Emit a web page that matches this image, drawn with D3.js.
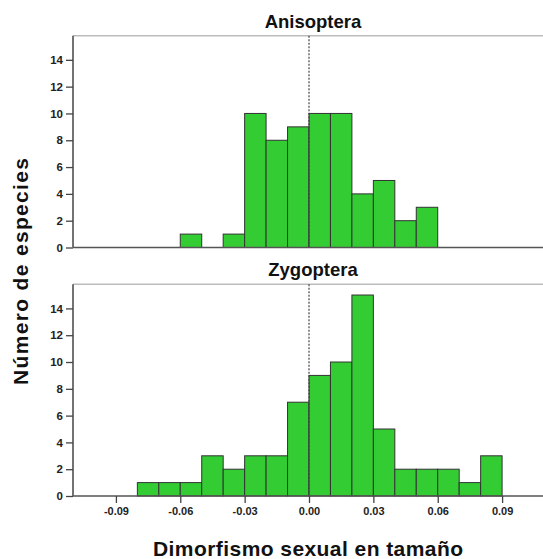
<!DOCTYPE html>
<html>
<head>
<meta charset="utf-8">
<script src="https://cdn.jsdelivr.net/npm/d3@7"></script>
<style>
  body { margin: 0; background: #fff; }
  svg { display: block; font-family: "Liberation Sans", Arial, sans-serif; }
</style>
</head>
<body>
<script>
// bin lower edges (width 0.01) and counts
const binWidth = 0.01;
const anisopteraBins = [-0.06, -0.04, -0.03, -0.02, -0.01, 0.00, 0.01, 0.02, 0.03, 0.04, 0.05];
const anisopteraCounts = [1, 1, 10, 8, 9, 10, 10, 4, 5, 2, 3];
const zygopteraBins = [-0.08, -0.07, -0.06, -0.05, -0.04, -0.03, -0.02, -0.01, 0.00, 0.01, 0.02, 0.03, 0.04, 0.05, 0.06, 0.07, 0.08];
const zygopteraCounts = [1, 1, 1, 3, 2, 3, 3, 7, 9, 10, 15, 5, 2, 2, 2, 1, 3];
const yTicks = [0, 2, 4, 6, 8, 10, 12, 14];
const xTicks = [-0.09, -0.06, -0.03, 0.00, 0.03, 0.06, 0.09];

const width = 543, height = 559;
const svg = d3.select("body").append("svg")
  .attr("width", width)
  .attr("height", height);

const x = d3.scaleLinear().domain([-0.11, 0.11]).range([73, 545]);
// plain hyphen for negatives, like the original
const fmtX = d => d3.format(".2f")(d).replace("\u2212", "-");

const panels = [
  { title: "Anisoptera", bins: anisopteraBins, counts: anisopteraCounts, top: 35.7, bottom: 247.5, showX: false },
  { title: "Zygoptera", bins: zygopteraBins, counts: zygopteraCounts, top: 284.3, bottom: 496, showX: true }
];

panels.forEach(p => {
  const y = d3.scaleLinear().domain([0, 15.8]).range([p.bottom, p.top]);
  const g = svg.append("g");

  // top frame line
  g.append("line")
    .attr("x1", x.range()[0]).attr("x2", width)
    .attr("y1", p.top).attr("y2", p.top)
    .attr("stroke", "#bbb").attr("stroke-width", 1.5);

  // bars
  g.selectAll("rect")
    .data(p.bins.map((b, i) => ({ x0: b, n: p.counts[i] })))
    .enter()
    .append("rect")
    .attr("x", d => x(d.x0))
    .attr("y", d => y(d.n))
    .attr("width", d => x(d.x0 + binWidth) - x(d.x0))
    .attr("height", d => y(0) - y(d.n))
    .attr("fill", "#33cc33")
    .attr("stroke", "#333")
    .attr("stroke-width", 1);

  // dotted reference line at zero
  g.append("line")
    .attr("x1", x(0)).attr("x2", x(0))
    .attr("y1", p.top).attr("y2", y(0))
    .attr("stroke", "#444").attr("stroke-width", 1.2)
    .attr("stroke-dasharray", "2,1.5");

  // y axis
  const yAxis = g.append("g")
    .attr("transform", `translate(${x.range()[0]},0)`)
    .call(d3.axisLeft(y).tickValues(yTicks).tickSize(7).tickPadding(3).tickSizeOuter(0));
  yAxis.select(".domain").remove();
  yAxis.append("line")
    .attr("x1", 0).attr("x2", 0)
    .attr("y1", p.top).attr("y2", p.bottom)
    .attr("stroke", "#444").attr("stroke-width", 1.5);
  yAxis.selectAll(".tick line").attr("stroke", "#444").attr("stroke-width", 1.3);
  yAxis.selectAll(".tick text")
    .attr("fill", "#222")
    .style("font-size", "11.5px")
    .style("font-weight", "bold")
    .style("font-family", "'Liberation Sans', Arial, sans-serif");

  // baseline
  g.append("line")
    .attr("x1", x.range()[0]).attr("x2", width)
    .attr("y1", p.bottom).attr("y2", p.bottom)
    .attr("stroke", "#555").attr("stroke-width", 1.5);

  if (p.showX) {
    const xAxis = g.append("g")
      .attr("transform", `translate(0,${p.bottom})`)
      .call(d3.axisBottom(x).tickValues(xTicks).tickFormat(fmtX).tickSize(7).tickPadding(4).tickSizeOuter(0));
    xAxis.select(".domain").remove();
    xAxis.selectAll(".tick line").attr("stroke", "#444").attr("stroke-width", 1.3);
    xAxis.selectAll(".tick text")
      .attr("fill", "#222")
      .style("font-size", "11px")
      .style("font-weight", "bold")
      .style("font-family", "'Liberation Sans', Arial, sans-serif");
  }

  // panel title
  svg.append("text")
    .attr("x", 313)
    .attr("y", p.top - 8)
    .attr("text-anchor", "middle")
    .style("font-size", "18.5px")
    .style("font-weight", "bold")
    .attr("fill", "#111")
    .text(p.title);
});

// axis titles
svg.append("text")
  .attr("transform", "translate(28,271.5) rotate(-90)")
  .attr("text-anchor", "middle")
  .attr("textLength", 227)
  .attr("lengthAdjust", "spacing")
  .style("font-size", "21px")
  .style("font-weight", "bold")
  .attr("fill", "#111")
  .text("Número de especies");

svg.append("text")
  .attr("x", 308)
  .attr("y", 555.5)
  .attr("text-anchor", "middle")
  .attr("textLength", 310)
  .attr("lengthAdjust", "spacing")
  .style("font-size", "21px")
  .style("font-weight", "bold")
  .attr("fill", "#111")
  .text("Dimorfismo sexual en tamaño");
</script>
</body>
</html>
